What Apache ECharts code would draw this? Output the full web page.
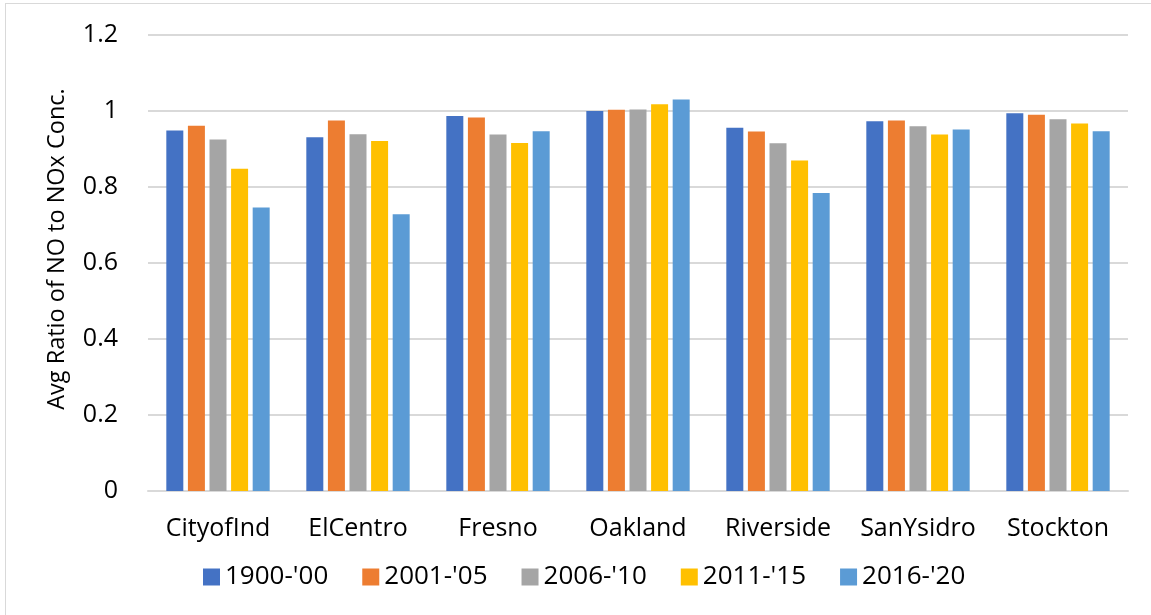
<!DOCTYPE html>
<html>
<head>
<meta charset="utf-8">
<script src="https://cdn.jsdelivr.net/npm/echarts@6/dist/echarts.min.js"></script>
<style>
  html, body { margin: 0; padding: 0; background: #fff; }
  #frame { position: absolute; left: 5px; top: 3px; width: 1160px; height: 630px;
           border-left: 1px solid #d9d9d9; border-top: 1px solid #d9d9d9; box-sizing: border-box; }
  #chart { position: absolute; left: 0; top: 0; width: 1151px; height: 615px; }
</style>
</head>
<body>
<div id="frame"></div>
<div id="chart"></div>
<script>
// Monitoring sites along the x axis
const sites = ['CityofInd', 'ElCentro', 'Fresno', 'Oakland', 'Riverside', 'SanYsidro', 'Stockton'];

// Period labels used for the legend
const periods = ["1900-'00", "2001-'05", "2006-'10", "2011-'15", "2016-'20"];

// Average NO / NOx ratio per site, one array per period
const p1900_00 = [0.949, 0.931, 0.987, 1.000, 0.956, 0.973, 0.994];
const p2001_05 = [0.961, 0.975, 0.983, 1.003, 0.946, 0.975, 0.990];
const p2006_10 = [0.925, 0.939, 0.938, 1.004, 0.915, 0.960, 0.978];
const p2011_15 = [0.848, 0.921, 0.916, 1.018, 0.870, 0.938, 0.967];
const p2016_20 = [0.746, 0.728, 0.947, 1.030, 0.784, 0.951, 0.947];

// Y axis ticks
const yTicks = { min: 0, max: 1.2, interval: 0.2 };
const yTitle = 'Avg Ratio of NO to NOx Conc.';

const seriesValues = [p1900_00, p2001_05, p2006_10, p2011_15, p2016_20];
const colors = ['#4472C4', '#ED7D31', '#A5A5A5', '#FFC000', '#5B9BD5'];
const font = '"Open Sans", "Noto Sans", sans-serif';

const chart = echarts.init(document.getElementById('chart'), null, { renderer: 'canvas' });

chart.setOption({
  animation: false,
  backgroundColor: 'transparent',
  color: colors,
  textStyle: { fontFamily: font, color: '#000' },
  grid: { left: 148, right: 23, top: 35, bottom: 124, containLabel: false },
  legend: {
    data: periods,
    left: 198,
    top: 559,
    icon: 'rect',
    itemWidth: 17,
    itemHeight: 17,
    itemGap: 34,
    textStyle: { fontFamily: font, fontSize: 26, color: '#000' }
  },
  // rotated y axis title
  graphic: [{
    type: 'text',
    x: 57,
    y: 249,
    rotation: Math.PI / 2,
    style: {
      text: yTitle,
      fontFamily: font,
      fontSize: 23.5,
      fill: '#000',
      align: 'center',
      verticalAlign: 'middle'
    }
  }],
  xAxis: {
    type: 'category',
    data: sites,
    axisLine: { show: true, lineStyle: { color: '#d9d9d9', width: 2 } },
    axisTick: { show: false },
    axisLabel: { interval: 0, fontFamily: font, fontSize: 25, color: '#000', margin: 25 }
  },
  yAxis: {
    type: 'value',
    min: yTicks.min,
    max: yTicks.max,
    interval: yTicks.interval,
    axisLine: { show: false },
    axisTick: { show: false },
    splitLine: { lineStyle: { color: '#d9d9d9', width: 2 } },
    axisLabel: {
      fontFamily: font, fontSize: 25, color: '#000', margin: 30,
      formatter: v => String(Math.round(v * 10) / 10)
    }
  },
  series: periods.map((name, i) => ({
    name,
    type: 'bar',
    data: seriesValues[i],
    barWidth: 17,
    barGap: '27%',
    itemStyle: { color: colors[i] }
  }))
});
</script>
</body>
</html>
